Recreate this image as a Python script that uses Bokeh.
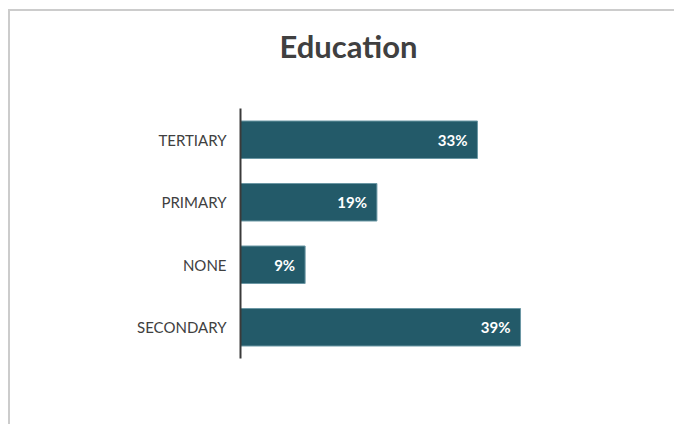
from bokeh.plotting import figure
from bokeh.models import ColumnDataSource, FactorRange, Range1d, Title
from bokeh.core.properties import value
from bokeh.embed import file_html
from bokeh.resources import INLINE

categories = ["SECONDARY", "NONE", "PRIMARY", "TERTIARY"]
values = [39, 9, 19, 33]
labels = ["39%", "9%", "19%", "33%"]
title_text = "Education"

FONT = "Lato"
BAR = "#235A69"
TXT = "#404040"

source = ColumnDataSource(dict(cat=categories, val=values, lab=labels))

p = figure(width=666, height=415, output_backend="svg", toolbar_location=None,
           y_range=FactorRange(*categories, range_padding=0),
           x_range=Range1d(0, 50),
           min_border_left=230, min_border_right=77, min_border_bottom=68, min_border_top=0)
p.styles = {"border-top": "2px solid #cccccc", "border-left": "2px solid #cccccc",
            "margin-left": "8px", "margin-top": "9px"}

p.hbar(y="cat", right="val", left=0, height=0.6, source=source,
       fill_color=BAR, line_color="#6b97a4", line_width=1)
p.text(x="val", y="cat", text="lab", source=source, x_offset=-10,
       text_align="right", text_baseline="middle", text_color="white",
       text_font=value(FONT), text_font_size="15px", text_font_style="bold")

# spacer (nearest the frame), then the main title above it
p.add_layout(Title(text=" ", text_font=FONT, text_font_size="10px", standoff=17), "above")
p.add_layout(Title(text=title_text, align="left", offset=39, text_font=FONT,
                   text_font_size="31px", text_font_style="bold", text_color=TXT,
                   standoff=26), "above")

p.xaxis.visible = False
p.xgrid.visible = False
p.ygrid.visible = False
p.outline_line_color = None
yax = p.yaxis[0]
yax.axis_line_color = "#3a3a3a"
yax.axis_line_width = 2
yax.major_tick_line_color = None
yax.minor_tick_line_color = None
yax.major_tick_out = 0
yax.major_tick_in = 0
yax.major_label_standoff = 14
yax.major_label_text_font = FONT
yax.major_label_text_font_size = "15px"
yax.major_label_text_color = TXT

open("out.html", "w").write(file_html(p, INLINE))
